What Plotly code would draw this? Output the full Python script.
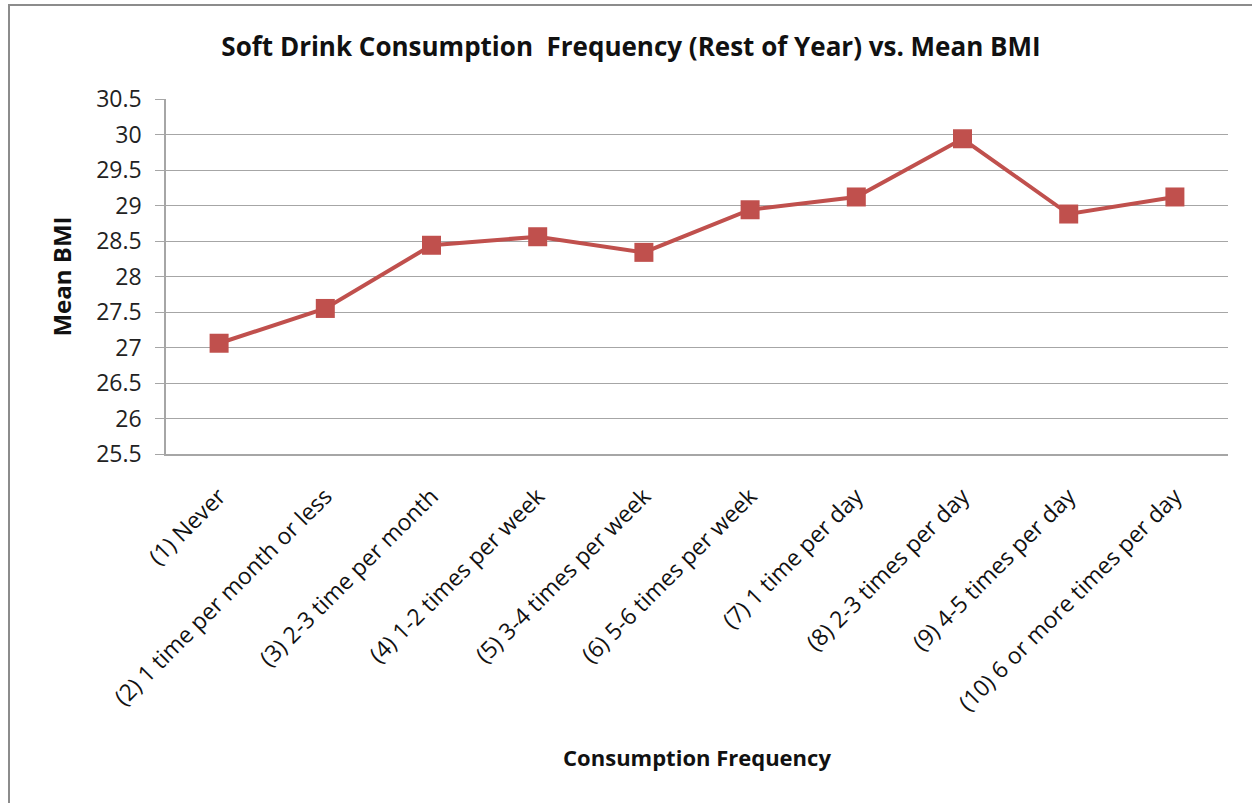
import plotly.graph_objects as go

# Consumption frequency categories and mean BMI for each
categories = [
    "(1) Never",
    "(2) 1 time per month or less",
    "(3) 2-3 time per month",
    "(4) 1-2 times per week",
    "(5) 3-4 times per week",
    "(6) 5-6 times per week",
    "(7) 1 time per day",
    "(8) 2-3 times per day",
    "(9) 4-5 times per day",
    "(10) 6 or more times per day",
]
mean_bmi = [27.06, 27.55, 28.44, 28.56, 28.34, 28.94, 29.12, 29.94, 28.88, 29.12]

y_ticks = [25.5, 26, 26.5, 27, 27.5, 28, 28.5, 29, 29.5, 30, 30.5]
y_tick_text = ["25.5", "26", "26.5", "27", "27.5", "28", "28.5", "29", "29.5", "30", "30.5"]

FONT = "'Open Sans', sans-serif"
RED = "#C0504D"
GRID = "#A6A6A6"

fig = go.Figure()
fig.add_trace(go.Scatter(
    x=categories,
    y=mean_bmi,
    mode="lines+markers",
    line=dict(color=RED, width=4),
    marker=dict(symbol="square", size=19, color=RED),
    showlegend=False,
    hoverinfo="x+y",
))

fig.update_layout(
    width=1252,
    height=803,
    margin=dict(l=166, r=24, t=99, b=349),
    paper_bgcolor="white",
    plot_bgcolor="white",
    font=dict(family=FONT, size=22, color="#222222"),
    title=dict(
        text="<b>Soft Drink Consumption  Frequency (Rest of Year) vs. Mean BMI</b>",
        x=631 / 1252, xref="container", xanchor="center",
        y=1 - 47 / 803, yref="container", yanchor="middle",
        font=dict(family=FONT, size=26, color="#111111"),
    ),
    xaxis=dict(
        type="category",
        tickangle=-45,
        showgrid=False,
        showline=True,
        linecolor=GRID,
        linewidth=1.5,
        ticks="",
        ticklabelstandoff=18,
        tickfont=dict(family=FONT, size=23, color="#111111"),
        title=dict(text="<b>Consumption Frequency</b>",
                   font=dict(family=FONT, size=22, color="#111111"),
                   standoff=34),
        range=[-0.5, 9.5],
    ),
    yaxis=dict(
        range=[25.5, 30.5],
        tickvals=y_ticks,
        ticktext=y_tick_text,
        showgrid=True,
        gridcolor=GRID,
        gridwidth=1.2,
        showline=True,
        linecolor=GRID,
        linewidth=1.5,
        ticks="outside",
        ticklen=9,
        tickcolor=GRID,
        ticklabelstandoff=9,
        tickfont=dict(family=FONT, size=23, color="#222222"),
        zeroline=False,
        title=dict(text="<b>Mean BMI</b>",
                   font=dict(family=FONT, size=24, color="#111111"),
                   standoff=18),
    ),
    shapes=[
        # outer chart frame (runs off the right and bottom edges)
        dict(type="rect", xref="paper", yref="paper",
             x0=(9 - 166) / 1062, x1=(1270 - 166) / 1062,
             y0=(454 - 820) / 355, y1=(454 - 5) / 355,
             line=dict(color="#8C8C8C", width=2), fillcolor="rgba(0,0,0,0)",
             layer="below"),
    ],
)

fig.write_html("out.html")
